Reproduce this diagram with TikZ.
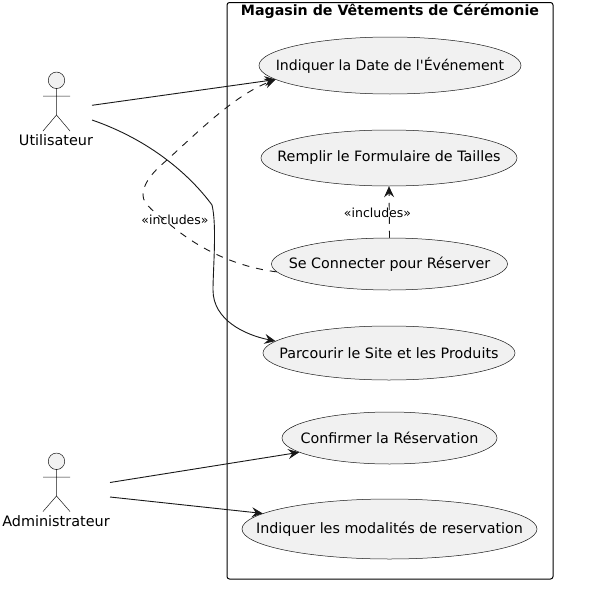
\documentclass[tikz,border=0pt]{standalone}
\usepackage{fontspec}
\setmainfont{DejaVu Sans}
\newfontfamily\plainface{DejaVu Sans}
\usetikzlibrary{shapes.geometric,arrows.meta}
\definecolor{ufill}{HTML}{F1F1F1}
\definecolor{ustroke}{HTML}{181818}
\tikzset{
  usecase/.style={ellipse,draw=ustroke,fill=ufill,line width=0.5pt,inner sep=0pt},
  casetext/.style={inner sep=0pt,font=\plainface\fontsize{14.3}{16}\selectfont,text=black},
  datetext/.style={casetext,font=\plainface\fontsize{14.1}{16}\selectfont},
  acthead/.style={circle,draw=ustroke,fill=ufill,line width=0.5pt,minimum size=16.5pt,inner sep=0pt},
  actline/.style={draw=ustroke,line width=0.5pt},
  actlabel/.style={inner sep=0pt,font=\plainface\fontsize{14.4}{16}\selectfont},
  link/.style={draw=ustroke,line width=0.9pt,-{Stealth[length=11pt,width=10pt,inset=4pt]}},
  dashlink/.style={link,dash pattern=on 7pt off 7pt},
  edgelabel/.style={inner sep=0pt,font=\plainface\fontsize{12.5}{15}\selectfont},
  framebox/.style={draw=black,line width=1pt,rounded corners=2.5pt},
  frametitle/.style={inner sep=0pt,font=\plainface\fontsize{14.2}{16}\selectfont\bfseries}
}
\begin{document}
\begin{tikzpicture}[x=1pt,y=-1pt]
\useasboundingbox (0,0) rectangle (592,589);
\fill[white] (0,0) rectangle (592,589);
\draw[framebox] (227,2.5) rectangle (553,579);
\node[frametitle] (title) at (390,11.5) {Magasin de Vêtements de Cérémonie};

\node[usecase,minimum width=262pt,minimum height=57pt] (date) at (390,65.5) {};
\node[datetext] (datet) at (date.center) {Indiquer la Date de l'Événement};
\node[usecase,minimum width=256pt,minimum height=56pt] (tailles) at (389,158) {};
\node[casetext] (taillest) at (tailles.center) {Remplir le Formulaire de Tailles};
\node[usecase,minimum width=236pt,minimum height=52pt] (connect) at (389.5,264) {};
\node[casetext] (connectt) at (connect.center) {Se Connecter pour Réserver};
\node[usecase,minimum width=252pt,minimum height=54pt] (site) at (389,353) {};
\node[casetext] (sitet) at (site.center) {Parcourir le Site et les Produits};
\node[usecase,minimum width=215pt,minimum height=52pt] (confirm) at (389.5,438) {};
\node[casetext] (confirmt) at (confirm.center) {Confirmer la Réservation};
\node[usecase,minimum width=295pt,minimum height=60pt] (modal) at (389.5,529) {};
\node[casetext] (modalt) at (modal.center) {Indiquer les modalités de reservation};

\node[acthead] (uhead) at (56.5,80.3) {};
\draw[actline] (uhead.south) -- (56.5,115) -- (43,131) (56.5,115) -- (70,131) (43,96) -- (70,96);
\node[actlabel] (ulabel) at (56,140) {Utilisateur};
\node[acthead] (ahead) at (56.5,461.3) {};
\draw[actline] (ahead.south) -- (56.5,496) -- (43,511.5) (56.5,496) -- (70,511.5) (43,477) -- (70,477);
\node[actlabel] (alabel) at (56,521) {Administrateur};

\coordinate (u1) at (92,105.3);
\coordinate (u2) at (92,120);
\coordinate (a1) at (110,482.5);
\coordinate (a2) at (110,497);

\draw[link] (u1) -- (date.187.4);
\draw[link] (u2) .. controls (150,140) and (190,175) .. (212,205)
  .. controls (217,225) and (213,270) .. (213,290)
  .. controls (213,320) and (245,335) .. (site.174.5);
\draw[link] (a1) -- (confirm.189.8);
\draw[link] (a2) -- (modal.173);
\draw[dashlink] (connect.184) .. controls (230,266) and (195,245) .. (173,227)
  .. controls (155,212) and (143,205) .. (143,195)
  .. controls (143,180) and (160,166) .. (167,160)
  .. controls (200,130) and (235,95) .. (date.187.4);
\draw[dashlink] (connect.90) -- (tailles.270);
\node[edgelabel] (inc1) at (175,220) {«includes»};
\node[edgelabel] (inc2) at (377.5,213) {«includes»};
\end{tikzpicture}
\end{document}
